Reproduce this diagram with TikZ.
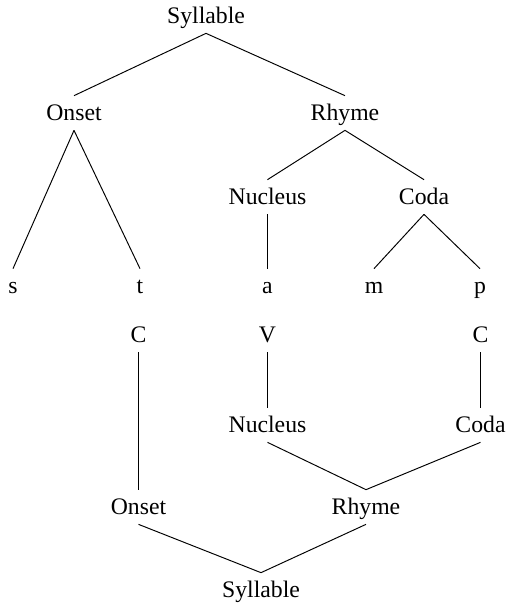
\documentclass[tikz,border=0pt]{standalone}
\usepackage{fontspec}
\setmainfont{Liberation Serif}
\begin{document}
\begin{tikzpicture}[
    x=0.02cm, y=-0.02cm,
    word/.style={anchor=base, inner sep=0pt, text height=0.48cm, text depth=0.2cm, font=\fontsize{13.5}{16}\selectfont},
    link/.style={line width=0.55pt}
]
\useasboundingbox (0,0) rectangle (505,603);
% upper tree
\node[word] (syl) at (206, 23) {Syllable};
\node[word] (ons) at (74, 120) {Onset};
\node[word] (rhy) at (345, 120) {Rhyme};
\node[word] (nuc) at (267.5, 204) {Nucleus};
\node[word] (cod) at (424, 204) {Coda};
\node[word] (s) at (13, 293) {s};
\node[word] (t) at (140, 293) {t};
\node[word] (a) at (267.5, 293) {a};
\node[word] (m) at (374, 293) {m};
\node[word] (p) at (480, 293) {p};

\draw[link] (syl.south) -- (ons.north);
\draw[link] (syl.south) -- (rhy.north);
\draw[link] (ons.south) -- (s.north);
\draw[link] (ons.south) -- (t.north);
\draw[link] (rhy.south) -- (nuc.north);
\draw[link] (rhy.south) -- (cod.north);
\draw[link] (nuc.south) -- (a.north);
\draw[link] (cod.south) -- (m.north);
\draw[link] (cod.south) -- (p.north);

% lower tree
\node[word] (c1) at (138.5, 342) {C};
\node[word] (v) at (267.5, 342) {V};
\node[word] (c2) at (480.5, 342) {C};
\node[word] (nuc2) at (267.5, 432) {Nucleus};
\node[word] (cod2) at (480.5, 432) {Coda};
\node[word] (ons2) at (138.5, 514) {Onset};
\node[word] (rhy2) at (366, 514) {Rhyme};
\node[word] (syl2) at (261, 597) {Syllable};

\draw[link] (c1.south) -- (ons2.north);
\draw[link] (v.south) -- (nuc2.north);
\draw[link] (c2.south) -- (cod2.north);
\draw[link] (nuc2.south) -- (rhy2.north);
\draw[link] (cod2.south) -- (rhy2.north);
\draw[link] (ons2.south) -- (syl2.north);
\draw[link] (rhy2.south) -- (syl2.north);
\end{tikzpicture}
\end{document}
